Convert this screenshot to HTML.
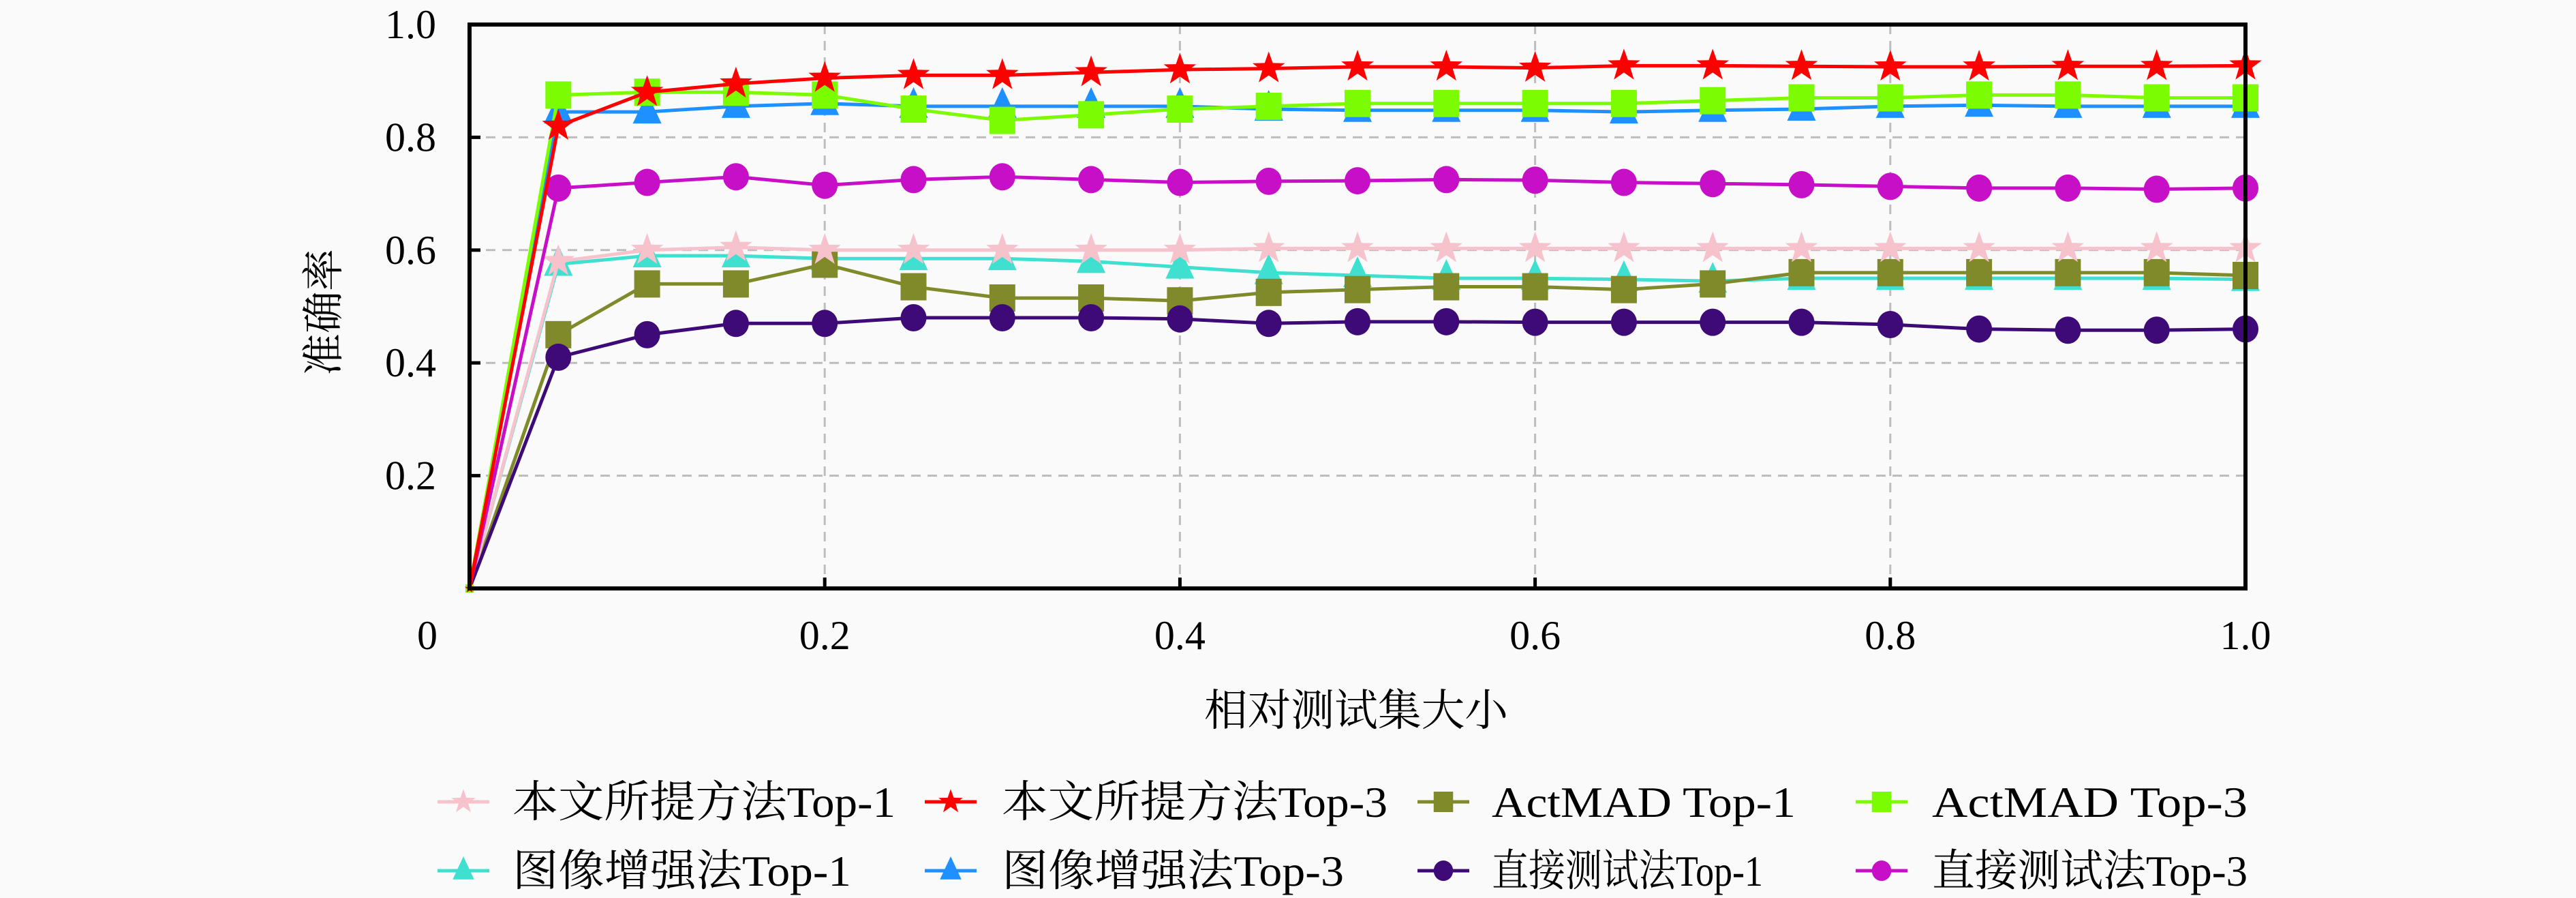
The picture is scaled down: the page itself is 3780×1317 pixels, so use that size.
<!DOCTYPE html>
<html><head><meta charset="utf-8"><style>
html,body{margin:0;padding:0;background:#fafafa;}
svg{display:block;}
text{font-family:"Liberation Serif","Noto Serif CJK SC",serif;fill:#000;}
</style></head><body>
<svg id="chart" width="3780" height="1317" viewBox="0 0 3780 1317" xmlns="http://www.w3.org/2000/svg">
<rect x="0" y="0" width="3780" height="1317" fill="#fafafa"/>
<g id="grid"></g>
<g id="series"></g>
<rect x="689" y="36" width="2606" height="827" fill="none" stroke="#000" stroke-width="6"/>
<g id="ticks"></g>
<text x="482" y="458" font-size="62" text-anchor="middle" transform="rotate(-90 482 458)" dominant-baseline="middle">准确率</text>
<text x="1990" y="1064" font-size="64" text-anchor="middle" textLength="446" lengthAdjust="spacingAndGlyphs">相对测试集大小</text>
<g id="legend"></g>
</svg>
<script>
const xValues = [0,0.05,0.1,0.15,0.2,0.25,0.3,0.35,0.4,0.45,0.5,0.55,0.6,0.65,0.7,0.75,0.8,0.85,0.9,0.95,1.0];
const xTicks = [0.2,0.4,0.6,0.8,1.0];
const xTickLabels = ["0.2","0.4","0.6","0.8","1.0"];
const yTicks = [0.2,0.4,0.6,0.8,1.0];
const yTickLabels = ["0.2","0.4","0.6","0.8","1.0"];
const seriesNames = ["本文所提方法Top-1","本文所提方法Top-3","ActMAD Top-1","ActMAD Top-3","图像增强法Top-1","图像增强法Top-3","直接测试法Top-1","直接测试法Top-3"];
const oursTop1 = [0,0.58,0.60,0.605,0.60,0.60,0.60,0.60,0.60,0.603,0.603,0.603,0.603,0.603,0.603,0.603,0.603,0.603,0.603,0.603,0.603];
const oursTop3 = [0,0.82,0.88,0.895,0.905,0.91,0.91,0.915,0.92,0.922,0.925,0.925,0.923,0.927,0.927,0.926,0.925,0.925,0.926,0.926,0.927];
const actmadTop1 = [0,0.45,0.54,0.54,0.575,0.535,0.515,0.515,0.51,0.525,0.53,0.535,0.535,0.53,0.54,0.56,0.56,0.56,0.56,0.56,0.555];
const actmadTop3 = [0,0.875,0.88,0.88,0.875,0.85,0.83,0.84,0.85,0.855,0.86,0.86,0.86,0.86,0.865,0.87,0.87,0.875,0.875,0.87,0.87];
const augTop1 = [0,0.575,0.59,0.59,0.585,0.585,0.585,0.58,0.57,0.56,0.555,0.55,0.55,0.548,0.545,0.55,0.55,0.55,0.55,0.55,0.548];
const augTop3 = [0,0.845,0.845,0.855,0.86,0.855,0.855,0.855,0.855,0.85,0.848,0.848,0.848,0.845,0.848,0.85,0.855,0.857,0.855,0.855,0.855];
const directTop1 = [0,0.41,0.45,0.47,0.47,0.48,0.48,0.48,0.478,0.47,0.473,0.473,0.472,0.472,0.472,0.472,0.468,0.46,0.458,0.458,0.46];
const directTop3 = [0,0.71,0.72,0.73,0.715,0.725,0.73,0.725,0.72,0.722,0.723,0.725,0.724,0.72,0.718,0.716,0.713,0.71,0.71,0.708,0.71];

const NS="http://www.w3.org/2000/svg";
const X0=689,X1=3295,Y0=863,Y1=36;
function sx(v){return X0+(X1-X0)*v;}
function sy(v){return Y0-(Y0-Y1)*v;}
function mk(tag,attrs,parent){const e=document.createElementNS(NS,tag);for(const k in attrs)e.setAttribute(k,attrs[k]);parent.appendChild(e);return e;}

const grid=document.getElementById('grid'),ticks=document.getElementById('ticks');
xTicks.forEach((t,i)=>{
  if(t<1){const l=mk('line',{x1:sx(t),x2:sx(t),y1:Y1,y2:Y0,stroke:'#bdbdbd','stroke-width':3,'stroke-dasharray':'14 10'},grid);
  
  }
  const tk=mk('line',{x1:sx(t),x2:sx(t),y1:Y0,y2:Y0-16,stroke:'#000','stroke-width':5},ticks);
  
  
  const tx=mk('text',{x:sx(t),y:952,'font-size':60,'text-anchor':'middle'},ticks);
  tx.textContent=xTickLabels[i];
  
  
});
const zl=mk('text',{x:627,y:952,'font-size':60,'text-anchor':'middle'},ticks);
zl.textContent='0';


yTicks.forEach((t,i)=>{
  if(t<1){const l=mk('line',{x1:X0,x2:X1,y1:sy(t),y2:sy(t),stroke:'#bdbdbd','stroke-width':3,'stroke-dasharray':'14 10'},grid);
  
  }
  const tk=mk('line',{x1:X0,x2:X0+16,y1:sy(t),y2:sy(t),stroke:'#000','stroke-width':5},ticks);
  
  
  const tx=mk('text',{x:640,y:sy(t)+20,'font-size':60,'text-anchor':'end'},ticks);
  tx.textContent=yTickLabels[i];
  
  
});

const seriesData=[oursTop1,oursTop3,actmadTop1,actmadTop3,augTop1,augTop3,directTop1,directTop3];
const colors=['#f6c3cd','#ff0000','#808a2a','#7cfc00','#40e0d0','#1e90ff','#3d0a78','#c80fc8'];
const markers=['star','star','square','square','tri','tri','circle','circle'];
function marker(type,x,y,color,parent,s){
  let e;
  if(type==='circle') e=mk('ellipse',{cx:x,cy:y,rx:19*s,ry:20*s,fill:color},parent);
  else if(type==='square') e=mk('rect',{x:x-19*s,y:y-20*s,width:38*s,height:40*s,fill:color},parent);
  else if(type==='tri') e=mk('polygon',{points:`${x},${y-28*s} ${x-21*s},${y+17*s} ${x+21*s},${y+17*s}`,fill:color},parent);
  else {let p=[];for(let k=0;k<10;k++){const r=(k%2?10:25)*s,a=-Math.PI/2+k*Math.PI/5;p.push((x+r*Math.cos(a)).toFixed(1)+','+(y+r*Math.sin(a)).toFixed(1));}
    e=mk('polygon',{points:p.join(' '),fill:color},parent);}
  return e;
}
const sg=document.getElementById('series');
const order=[4,2,0,6,7,5,3,1];
order.forEach(i=>{
  const g=mk('g',{},sg);
  
  
  const pts=seriesData[i].map((v,j)=>sx(xValues[j])+','+sy(v)).join(' ');
  const pl=mk('polyline',{points:pts,fill:'none',stroke:colors[i],'stroke-width':5},g);
  
  
  seriesData[i].forEach((v,j)=>{
    const m=marker(markers[i],sx(xValues[j]),sy(v),colors[i],g,j===0?0.3:1);
    
    
  });
});

const lg=document.getElementById('legend');
const colX=[680,1395,2118,2761],rowY=[1176,1277];
const textX=[752,1470,2189,2835];
const textW=[562,566,446,463,497,502,398,463];
seriesNames.forEach((n,i)=>{
  const cx=colX[i%4],cy=rowY[Math.floor(i/4)];
  const g=mk('g',{},lg);
  
  
  mk('line',{x1:cx-38,x2:cx+38,y1:cy,y2:cy,stroke:colors[i],'stroke-width':5},g);
  marker(markers[i],cx,cy,colors[i],g,0.75);
  const t=mk('text',{x:textX[i%4],y:cy+22,'font-size':64,textLength:textW[i],lengthAdjust:'spacingAndGlyphs'},g);
  t.textContent=n;
  
  
});
</script>
</body></html>
